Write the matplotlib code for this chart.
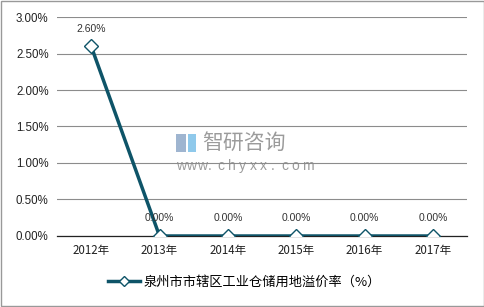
import matplotlib.pyplot as plt
from matplotlib.ticker import FuncFormatter

plt.rcParams['font.family'] = ['Noto Sans CJK SC', 'DejaVu Sans']

# data
years = ['2012年', '2013年', '2014年', '2015年', '2016年', '2017年']
rates = [2.60, 0.00, 0.00, 0.00, 0.00, 0.00]
yticks = [0.0, 0.5, 1.0, 1.5, 2.0, 2.5, 3.0]
series_name = '泉州市市辖区工业仓储用地溢价率（%）'

line_color = '#0E5468'

fig = plt.figure(figsize=(4.85, 3.07), dpi=100)
ax = fig.add_axes([0.1175, 0.2313, 0.8455, 0.7133])

x = list(range(len(years)))
ax.plot(x, rates, color=line_color, linewidth=2.5, marker='D', markersize=7,
        markerfacecolor='white', markeredgecolor=line_color, markeredgewidth=1,
        label=series_name, zorder=3)

for xi, v in zip(x, rates):
    ax.annotate(f'{v:.2f}%', (xi, v), xytext=(0, 9), textcoords='offset points',
                ha='center', va='bottom', fontsize=7.5, color='#333333',
                family=['Liberation Sans', 'DejaVu Sans'])

ax.set_xlim(-0.5, len(years) - 0.5)
ax.set_ylim(0, 3.0)
ax.set_yticks(yticks)
ax.yaxis.set_major_formatter(FuncFormatter(lambda v, p: f'{v:.2f}%'))
ax.set_xticks(x)
ax.set_xticklabels(years)
ax.grid(axis='y', color='#8c8c8c', linewidth=0.8)
ax.set_axisbelow(True)
for s in ['top', 'right', 'left']:
    ax.spines[s].set_visible(False)
ax.spines['bottom'].set_color('#222222')
ax.spines['bottom'].set_linewidth(0.9)
ax.tick_params(axis='both', length=0, labelsize=8.3, colors='#222222', pad=6)
for lab in ax.get_yticklabels():
    lab.set_family(['Liberation Sans', 'DejaVu Sans'])

# watermark
fig.text(0.416, 0.534, '智研咨询', fontsize=15, color='#8a8a8a', alpha=0.85,
         ha='left', va='center')
wm = 'www.chyxx.com'
for i, ch in enumerate(wm):
    fig.text(0.362 + i * 0.0218, 0.459, ch, fontsize=10, color='#8a8a8a', alpha=0.85,
             ha='left', va='center', family=['Liberation Sans', 'DejaVu Sans'])
fig.patches.append(plt.Rectangle((0.362, 0.505), 0.022, 0.06, transform=fig.transFigure,
                                 facecolor='#8ea8c8', edgecolor='none', alpha=0.85))
fig.patches.append(plt.Rectangle((0.388, 0.505), 0.016, 0.06, transform=fig.transFigure,
                                 facecolor='#7cc0e8', edgecolor='none', alpha=0.85))

ax.legend(loc='lower center', bbox_to_anchor=(0.457, -0.27), frameon=False,
          fontsize=9.5, handlelength=2.4, handletextpad=0.3, borderpad=0,
          markerscale=0.8)

fig.patches.append(plt.Rectangle((0.002, 0.003), 0.995, 0.994, transform=fig.transFigure,
                                 facecolor='none', edgecolor='#999999', linewidth=1))

fig.savefig('out.png', dpi=100)
